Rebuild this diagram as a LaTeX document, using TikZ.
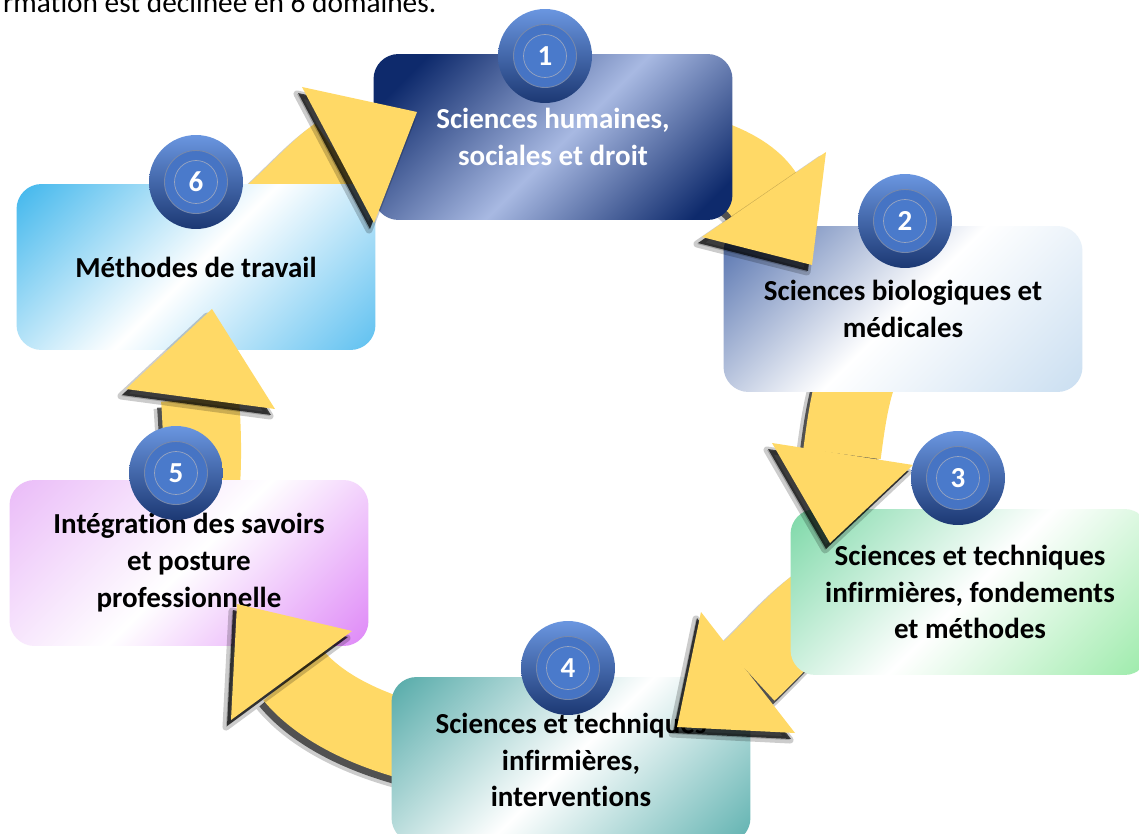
\documentclass[tikz,border=0pt]{standalone}
\usepackage{fontspec}
\setmainfont{Carlito}[Ligatures = NoCommon]
\usepackage{tikz}

\definecolor{arrowYellow}{HTML}{FFD966}
\definecolor{humDark}{HTML}{0E2A6C}
\definecolor{humLight}{HTML}{A8B9E2}
\definecolor{bioDark}{HTML}{3A5CA2}
\definecolor{bioLight}{HTML}{C3DAEF}
\definecolor{fondTop}{HTML}{6CD39C}
\definecolor{fondBottom}{HTML}{8EE89E}
\definecolor{intervTop}{HTML}{3E9F9D}
\definecolor{intervBottom}{HTML}{4BA8A6}
\definecolor{integTop}{HTML}{E7B2F7}
\definecolor{integBottom}{HTML}{DA78F6}
\definecolor{methTop}{HTML}{27ADEA}
\definecolor{methBottom}{HTML}{49B8EE}
\definecolor{badgeTop}{HTML}{6A96E0}
\definecolor{badgeBottom}{HTML}{1C3873}
\definecolor{badgeRing}{HTML}{4674C4}
\definecolor{badgeCore}{HTML}{4A7ACB}
\colorlet{shadeA}{white}
\colorlet{shadeB}{white}
\colorlet{shadeC}{white}
\pgfdeclarehorizontalshading[shadeA,shadeB,shadeC]{boxShade}{100bp}{color(0bp)=(shadeA); color(10bp)=(shadeA); color(50bp)=(shadeB); color(90bp)=(shadeC); color(100bp)=(shadeC)}
\pgfdeclarehorizontalshading[shadeA,shadeB,shadeC]{boxShadeDark}{100bp}{color(0bp)=(shadeA); color(22bp)=(shadeA); color(52bp)=(shadeB); color(80bp)=(shadeC); color(100bp)=(shadeC)}

\begin{document}
\begin{tikzpicture}[x = 0.02cm, y = -0.02cm, font = \fontsize{16.5}{21}\selectfont\bfseries]
\tikzset{
  box/.style = {rounded corners = 0.5cm, minimum width = 7.18cm, minimum height = 3.32cm, align = center, inner sep = 0pt},
  boxFill/.style n args = {3}{/utils/exec = {\colorlet{shadeA}{#1}\colorlet{shadeB}{#2}\colorlet{shadeC}{#3}}, shade, shading = boxShade, shading angle = -45},
  badge/.style = {circle, minimum size = 1.88cm, top color = badgeTop, bottom color = badgeBottom, text = white,
    path picture = {
      \fill [badgeRing] (path picture bounding box.center) circle (0.63cm);
      \draw [badgeBottom!60, line width = 0.5pt] (path picture bounding box.center) circle (0.63cm);
      \fill [badgeCore] (path picture bounding box.center) circle (0.43cm);
      \draw [badgeBottom!45, line width = 0.4pt] (path picture bounding box.center) circle (0.43cm);
    }},
  band/.style = {draw = arrowYellow, line width = 1.56cm,
    preaction = {draw = black, line width = 1.66cm, opacity = 0.2, transform canvas = {shift = {(-0.1cm,-0.14cm)}}},
    preaction = {draw = black, line width = 1.56cm, opacity = 0.6, transform canvas = {shift = {(-0.08cm,-0.12cm)}}}},
  head/.style = {fill = arrowYellow,
    preaction = {fill = black, draw = black, line width = 4pt, line join = round, opacity = 0.2, transform canvas = {shift = {(-0.1cm,-0.14cm)}}},
    preaction = {fill = black, opacity = 0.7, transform canvas = {shift = {(-0.08cm,-0.12cm)}}}},
}
\useasboundingbox (0,0) rectangle (1139,834);
\fill [white] (0,0) rectangle (1139,834);

\node [anchor = base west, font = \fontsize{16.7}{20}\selectfont\mdseries] (title) at (-3,13) {rmation est déclinée en 6 domaines.};

\coordinate (sixOneEnd) at (338,155);
\coordinate (oneTwoEnd) at (764,195);
\coordinate (twoThreeEnd) at (842,454);
\coordinate (threeFourEnd) at (748,672);
\coordinate (fourFiveEnd) at (293,675);
\coordinate (fiveSixEnd) at (200,399);

\path (553,137) coordinate (sciHumPos) (903,309) coordinate (sciBioPos) (970,592) coordinate (sciFondPos)
      (571,760) coordinate (sciIntervPos) (189,563) coordinate (integrationPos) (196,267) coordinate (methodesPos);

\draw [band] (methodesPos) .. controls (265,235) and (305,178) .. (sixOneEnd);
\draw [band] (sciHumPos) .. controls (700,140) and (748,170) .. (oneTwoEnd);
\draw [band] (sciBioPos) .. controls (855,340) and (848,410) .. (twoThreeEnd);
\draw [band] (sciFondPos) .. controls (850,540) and (805,620) .. (threeFourEnd);
\draw [band] (sciIntervPos) .. controls (420,760) and (330,720) .. (fourFiveEnd);
\draw [band] (integrationPos) .. controls (205,500) and (203,440) .. (fiveSixEnd);

\node [box, boxFill = {humDark}{humLight}{humDark}, shading = boxShadeDark, text = white] (sciHum) at (sciHumPos) {Sciences humaines,\\sociales et droit};
\node [box, boxFill = {bioDark}{white}{bioLight}] (sciBio) at (sciBioPos) {Sciences biologiques et\\médicales};
\node [box, boxFill = {fondTop}{white}{fondBottom}] (sciFond) at (sciFondPos) {Sciences et techniques\\infirmières, fondements\\et méthodes};
\node [box, boxFill = {intervTop}{white}{intervBottom}] (sciInterv) at (sciIntervPos) {Sciences et techniques\\infirmières,\\interventions};
\node [box, boxFill = {integTop}{white}{integBottom}] (integration) at (integrationPos) {Intégration des savoirs\\et posture\\professionnelle};
\node [box, boxFill = {methTop}{white}{methBottom}] (methodes) at (methodesPos) {Méthodes de travail};

\fill [head] (302,87) -- (417,112) -- (374,223) -- cycle;
\fill [head] (826,152) -- (812,265) -- (702,237) -- cycle;
\fill [head] (772,443) -- (913,465) -- (830,543) -- cycle;
\fill [head] (701,612) -- (795,733) -- (677,727) -- cycle;
\fill [head] (237,604) -- (352,631) -- (231,720) -- cycle;
\fill [head] (126,389) -- (212,309) -- (275,409) -- cycle;

\node [badge] (badgeOne) at (545,56) {1};
\node [badge] (badgeTwo) at (905,221) {2};
\node [badge] (badgeThree) at (958,478) {3};
\node [badge] (badgeFour) at (568,668) {4};
\node [badge] (badgeFive) at (176,473) {5};
\node [badge] (badgeSix) at (196,182) {6};
\end{tikzpicture}
\end{document}
